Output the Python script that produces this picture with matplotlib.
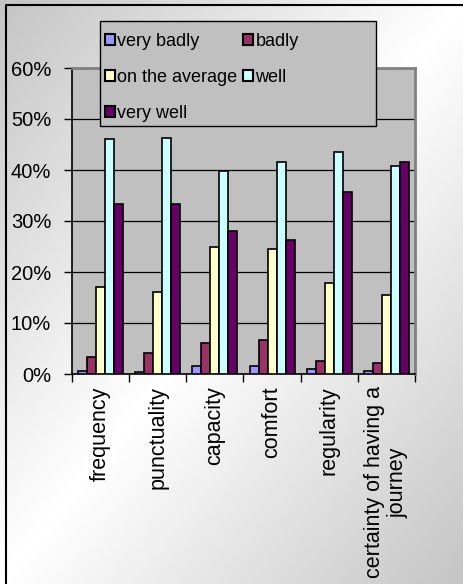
import numpy as np
import matplotlib.pyplot as plt
from matplotlib.patches import Patch, Rectangle
from matplotlib.lines import Line2D

# -----------------------------
# Data (percent of answers)
# -----------------------------
categories = ["frequency", "punctuality", "capacity", "comfort", "regularity",
              "certainty of having a\njourney"]
series_names = ["very badly", "badly", "on the average", "well", "very well"]
very_badly = [0.6, 0.45, 1.5, 1.5, 0.9, 0.5]
badly = [3.4, 4.2, 6.0, 6.7, 2.5, 2.1]
on_average = [17.1, 16.1, 25.0, 24.5, 17.8, 15.4]
well = [46.0, 46.3, 39.8, 41.6, 43.5, 40.8]
very_well = [33.3, 33.3, 28.0, 26.2, 35.7, 41.6]
colors = ["#9999FF", "#993366", "#FFFFCC", "#CCFFFF", "#660066"]
y_ticks = [0, 10, 20, 30, 40, 50, 60]

plt.rcParams['font.family'] = ['Liberation Sans', 'DejaVu Sans']

W, H = 464, 584
fig = plt.figure(figsize=(W / 100, H / 100), dpi=100)

# diagonal gray -> white -> gray background
bg = fig.add_axes([0, 0, 1, 1], zorder=-10)
xx, yy = np.meshgrid(np.linspace(0, 1, 200), np.linspace(0, 1, 200))
t = (xx + yy) / 2
g = 0.77
val = 1 - (1 - g) * np.abs(2 * t - 1)
bg.imshow(val, cmap="gray", vmin=0, vmax=1, aspect="auto", extent=[0, 1, 1, 0],
          interpolation="bilinear")
bg.set_xlim(0, 1)
bg.set_ylim(1, 0)
bg.axis("off")

# outer chart border (top and left visible)
fx, fy = 6 / W, 1 - 5 / H
fig.add_artist(Line2D([fx, fx, 1.01], [-0.01, fy, fy], transform=fig.transFigure,
                      color="black", lw=1.5))

# -----------------------------
# Bars
# -----------------------------
ax = fig.add_axes([72 / W, 1 - 374 / H, (415 - 72) / W, (374 - 68) / H])
ax.set_facecolor("#C0C0C0")

data = [very_badly, badly, on_average, well, very_well]
x = np.arange(len(categories))
bw = 0.158
for i, (vals, c) in enumerate(zip(data, colors)):
    ax.bar(x + (i - 2) * bw, vals, width=bw, color=c, edgecolor="black",
           linewidth=1.2, zorder=3)

ax.set_xlim(-0.5, len(categories) - 0.5)
ax.set_ylim(0, 60)
ax.set_yticks(y_ticks)
ax.set_yticklabels([f"{v}%" for v in y_ticks], fontsize=14.5)
ax.yaxis.grid(True, color="black", lw=0.9, zorder=1)
ax.set_axisbelow(True)

ax.set_xticks(x)
ax.set_xticklabels(categories, rotation=90, fontsize=15.5, ha="center", va="top",
                   multialignment="center")
ax.set_xticks(np.arange(len(categories) + 1) - 0.5, minor=True)
ax.tick_params(axis="x", which="major", length=0, pad=9)
ax.tick_params(axis="x", which="minor", length=6, width=1, direction="out")
ax.tick_params(axis="y", length=6, width=1, direction="out", pad=9)

for s in ["top", "right"]:
    ax.spines[s].set_color("#808080")
    ax.spines[s].set_linewidth(2)
for s in ["left", "bottom"]:
    ax.spines[s].set_color("black")
    ax.spines[s].set_linewidth(1.2)

# -----------------------------
# Legend (frame drawn separately)
# -----------------------------
fig.add_artist(Rectangle((100 / W, 1 - 126 / H), 276 / W, 105 / H,
                         transform=fig.transFigure, facecolor="#C0C0C0",
                         edgecolor="black", lw=1, zorder=5))
handles = [Patch(facecolor=c, edgecolor="black", lw=1.5) for c in colors]
order = [0, 2, 4, 1, 3]
leg = fig.legend([handles[k] for k in order], [series_names[k] for k in order],
                 ncol=2, loc="upper left", bbox_to_anchor=(101 / W, 1 - 29 / H),
                 bbox_transform=fig.transFigure, frameon=False, fontsize=13,
                 handlelength=0.55, handleheight=0.55, handletextpad=0.15,
                 columnspacing=0.3, labelspacing=1.05, borderpad=0.2,
                 borderaxespad=0)
leg.set_zorder(6)

fig.savefig("out.png", dpi=100)
